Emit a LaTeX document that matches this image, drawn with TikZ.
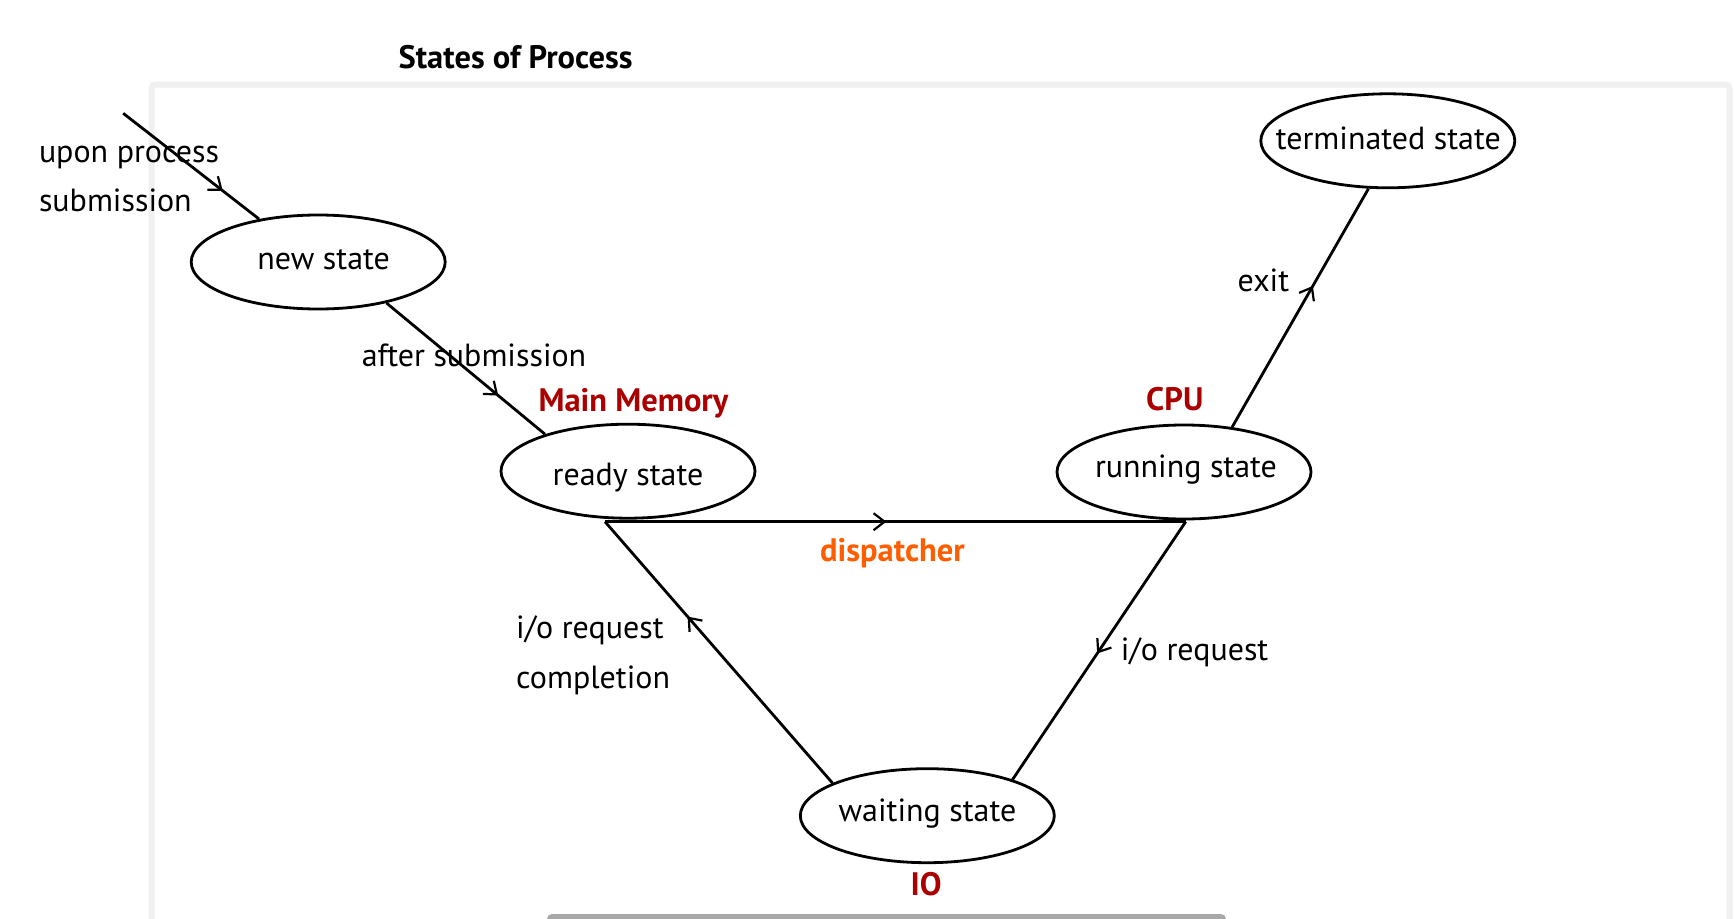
\documentclass[tikz,border=0pt]{standalone}
\usepackage{fontspec}
\setmainfont{PT Sans}
\usetikzlibrary{arrows.meta,decorations.markings,shapes.geometric}
\definecolor{memred}{RGB}{170,0,0}
\definecolor{disporange}{RGB}{255,94,0}
\definecolor{framegrey}{RGB}{240,240,240}
\definecolor{bargrey}{RGB}{168,168,168}
\begin{document}
\begin{tikzpicture}[x=1pt,y=-1pt,
  statebox/.style={ellipse,draw,line width=2.8pt,minimum width=254pt,minimum height=94pt,inner sep=0pt},
  txt/.style={inner sep=0pt,font=\fontsize{32}{38}\selectfont},
  btxt/.style={inner sep=0pt,font=\fontsize{32.5}{39}\selectfont\bfseries},
  conn/.style={line width=2.8pt},
  midarrow/.style={postaction={decorate},decoration={markings,mark=at position #1 with {\arrow{Straight Barb[length=11pt,width=17pt,line width=2.2pt]}}}},
]
\useasboundingbox (0,0) rectangle (1734,918);
\clip (0,0) rectangle (1734,918);
\fill[white] (0,0) rectangle (1734,918);
% frame
\draw[framegrey, line width=6pt, rounded corners=4pt] (151.5,940) -- (151.5,84.5) -- (1729.5,84.5) -- (1729.5,940);
\fill[bargrey, rounded corners=5pt] (547,914) rectangle (1226,934);
% title
\node[btxt, anchor=base west] (title) at (398.4,68.3) {States of Process};
% states
\node[statebox] (new) at (318.2,262) {};
\node[statebox] (ready) at (628,471.2) {};
\node[statebox] (running) at (1184,472) {};
\node[statebox] (term) at (1387.8,140.8) {};
\node[statebox] (wait) at (927.3,815.7) {};
\node[txt, anchor=base] (newt) at (323.7,269) {new state};
\node[txt, anchor=base] (readyt) at (628,485) {ready state};
\node[txt, anchor=base] (runt) at (1186,477.5) {running state};
\node[txt, anchor=base] (termt) at (1388.3,149) {terminated state};
\node[txt, anchor=base] (waitt) at (927.5,821) {waiting state};
% coordinates
\coordinate (entry) at (123.2,113.3);
\coordinate (rb) at (605,521.7);
\coordinate (cb) at (1185.7,521.7);
% connectors
\draw[conn, midarrow=0.733] (entry) -- (new.144.5);
\draw[conn, midarrow=0.705] (new.-31.5) -- (ready.156.2);
\draw[conn, midarrow=0.4845] (rb) -- (cb);
\draw[conn, midarrow=0.637] (wait.161.1) -- (rb);
\draw[conn, midarrow=0.511] (cb) -- (wait.23.8);
\draw[conn, midarrow=0.592] (running.43.5) -- (term.-112.8);
% labels
\node[txt, anchor=base west] (l1) at (38.8,162.7) {upon process};
\node[txt, anchor=base west] (l2) at (38.8,211) {submission};
\node[txt, anchor=base] (l3) at (474,366) {after submission};
\node[btxt, text=memred, anchor=base] (mm) at (633.5,411.7) {Main Memory};
\node[btxt, text=memred, anchor=base] (cpu) at (1174.8,410) {CPU};
\node[txt, anchor=base] (exit) at (1263.4,291) {exit};
\node[btxt, text=disporange, anchor=base] (disp) at (892.4,561.7) {dispatcher};
\node[txt, anchor=base west] (l4) at (516,638) {i/o request};
\node[txt, anchor=base west] (l5) at (516,688) {completion};
\node[txt, anchor=base west] (l6) at (1120.7,660) {i/o request};
\node[btxt, text=memred, anchor=base] (io) at (926.2,895) {IO};
\end{tikzpicture}
\end{document}
